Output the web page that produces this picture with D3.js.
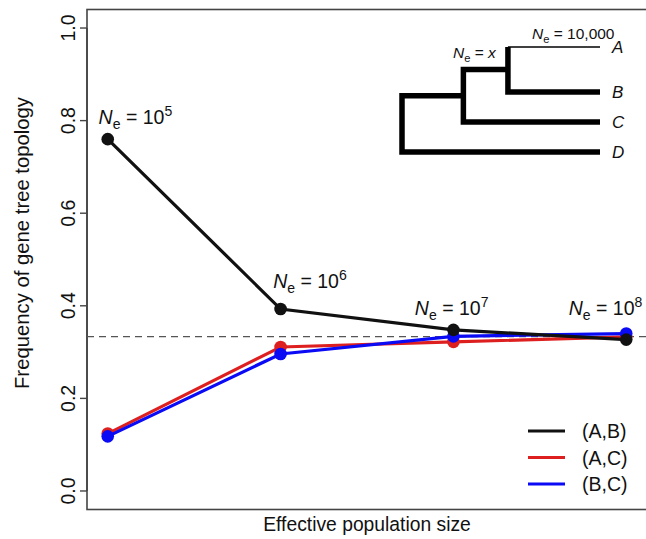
<!DOCTYPE html>
<html>
<head>
<meta charset="utf-8">
<script src="https://cdn.jsdelivr.net/npm/d3@7"></script>
<style>
  body { margin: 0; background: #fff; }
  text { font-family: "Liberation Sans", Arial, Helvetica, sans-serif; fill: #111; }
</style>
</head>
<body>
<div id="chart"></div>
<script>
// data
var popSizes = [5, 6, 7, 8];            // log10 of Ne, one per x position
var freqAB = [0.760, 0.393, 0.348, 0.327];
var freqAC = [0.124, 0.311, 0.322, 0.333];
var freqBC = [0.118, 0.296, 0.334, 0.340];
var yTicks = [0, 0.2, 0.4, 0.6, 0.8, 1.0];
var seriesNames = ["(A,B)", "(A,C)", "(B,C)"];
var seriesColors = ["#111111", "#dd1f1f", "#0a0af5"];

// where the Ne labels sit, in data units (x index, frequency)
var labelX = [1.16, 2.17, 2.99, 3.88];
var labelY = [0.793, 0.438, 0.380, 0.380];

// inset tree: tips and node heights (0 = tips, 1 = root)
var tips = ["A", "B", "C", "D"];
var tipRows = [0, 1.5, 2.5, 3.5];
var hAB = 0.465, hABC = 0.69, hRoot = 1;

var W = 646, H = 539;
var svg = d3.select("#chart")
  .append("svg")
    .attr("width", W)
    .attr("height", H);

// scales (R style: 4% padding on both axes)
var x = d3.scaleLinear()
  .domain([0.88, 4.12])
  .range([87, 647]);
var y = d3.scaleLinear()
  .domain([-0.04, 1.04])
  .range([509.5, 9.5]);

// plot box
svg.append("rect")
  .attr("x", x(0.88)).attr("y", y(1.04))
  .attr("width", x(4.12) - x(0.88))
  .attr("height", y(-0.04) - y(1.04))
  .attr("fill", "none")
  .attr("stroke", "#444")
  .attr("stroke-width", 1.6);

// y axis
var yAxis = svg.append("g")
  .attr("transform", "translate(" + x(0.88) + ",0)")
  .call(d3.axisLeft(y).tickValues(yTicks).tickFormat(d3.format(".1f")).tickSize(7));
yAxis.select(".domain").attr("stroke", "#444").attr("stroke-width", 1.6)
  .attr("d", "M0," + y(0) + "V" + y(1));
yAxis.selectAll(".tick").attr("transform", null);
yAxis.selectAll(".tick line")
  .attr("stroke", "#444").attr("stroke-width", 1.4)
  .attr("y1", function(d) { return y(d); })
  .attr("y2", function(d) { return y(d); });
yAxis.selectAll(".tick text")
  .attr("font-size", 19.5)
  .attr("fill", "#222")
  .attr("transform", function(d) { return "translate(-12.5," + y(d) + ") rotate(-90)"; })
  .attr("x", 0).attr("y", 0)
  .attr("dy", 0)
  .style("text-anchor", "middle")
  .attr("font-family", "Liberation Sans, Arial, sans-serif");

// axis titles
svg.append("text")
  .attr("transform", "translate(29,243) rotate(-90)")
  .attr("text-anchor", "middle")
  .attr("font-size", 20.3)
  .text("Frequency of gene tree topology");
svg.append("text")
  .attr("x", (x(0.88) + x(4.12)) / 2)
  .attr("y", 531)
  .attr("text-anchor", "middle")
  .attr("font-size", 19.3)
  .text("Effective population size");

// expected 1/3 line
svg.append("line")
  .attr("x1", x(0.88)).attr("x2", x(4.12))
  .attr("y1", y(1 / 3)).attr("y2", y(1 / 3))
  .attr("stroke", "#555")
  .attr("stroke-width", 1.4)
  .attr("stroke-dasharray", "7,5");

// series: red, blue, then black on top
var series = [
  { name: seriesNames[1], color: seriesColors[1], values: freqAC },
  { name: seriesNames[2], color: seriesColors[2], values: freqBC },
  { name: seriesNames[0], color: seriesColors[0], values: freqAB }
];
var line = d3.line()
  .x(function(d, i) { return x(i + 1); })
  .y(function(d) { return y(d); });

series.forEach(function(s) {
  svg.append("path")
    .datum(s.values)
    .attr("fill", "none")
    .attr("stroke", s.color)
    .attr("stroke-width", 3.2)
    .attr("d", line);
  svg.selectAll(null)
    .data(s.values)
    .enter()
    .append("circle")
      .attr("cx", function(d, i) { return x(i + 1); })
      .attr("cy", function(d) { return y(d); })
      .attr("r", 6.3)
      .attr("fill", s.color);
});

// N_e labels
function neLabel(g, px, py, size) {
  var t = g.append("text")
    .attr("x", px).attr("y", py)
    .attr("font-size", size);
  t.append("tspan").attr("font-style", "italic").text("N");
  t.append("tspan").attr("font-size", size * 0.72).attr("dy", size * 0.25).text("e");
  return t;
}
popSizes.forEach(function(p, i) {
  var t = neLabel(svg, x(labelX[i]), y(labelY[i]), 19.5);
  t.attr("text-anchor", "middle");
  t.append("tspan").attr("dy", -19.5 * 0.25).text(" = 10");
  t.append("tspan").attr("font-size", 19.5 * 0.72).attr("dy", -8).text(p);
});

// inset tree
var tx = d3.scaleLinear().domain([hRoot, 0]).range([402, 600]);
var ty = d3.scaleLinear().domain([0, 3.5]).range([47, 152]);
var rowAB = (tipRows[0] + tipRows[1]) / 2;
var rowABC = (rowAB + tipRows[2]) / 2;
var tree = svg.append("g");
var thick = [
  [[hAB, tipRows[0]], [hAB, tipRows[1]], [0, tipRows[1]]],
  [[hAB, rowAB], [hABC, rowAB], [hABC, tipRows[2]], [0, tipRows[2]]],
  [[hABC, rowABC], [hRoot, rowABC], [hRoot, tipRows[3]], [0, tipRows[3]]]
];
var treeLine = d3.line()
  .x(function(d) { return tx(d[0]); })
  .y(function(d) { return ty(d[1]); });
tree.selectAll(null)
  .data(thick)
  .enter()
  .append("path")
    .attr("d", treeLine)
    .attr("fill", "none")
    .attr("stroke", "#000")
    .attr("stroke-width", 5.5)
    .attr("stroke-linejoin", "miter");
tree.append("path")
  .attr("d", treeLine([[hAB, tipRows[0]], [0, tipRows[0]]]))
  .attr("stroke", "#000")
  .attr("stroke-width", 1.3);
tree.selectAll(".tip")
  .data(tips)
  .enter()
  .append("text")
    .attr("x", tx(0) + 12)
    .attr("y", function(d, i) { return ty(tipRows[i]) + 6; })
    .attr("font-size", 17)
    .attr("font-style", "italic")
    .text(function(d) { return d; });

var lx = neLabel(tree, 453, 58, 15.5);
lx.append("tspan").attr("dy", -15.5 * 0.25).text(" = ");
lx.append("tspan").attr("font-style", "italic").text("x");
var l10 = neLabel(tree, 532, 39, 15.5);
l10.append("tspan").attr("dy", -15.5 * 0.25).text(" = 10,000");

// legend
var legend = svg.append("g");
seriesNames.forEach(function(name, i) {
  var ly = 431 + i * 26.5;
  legend.append("line")
    .attr("x1", 528).attr("x2", 565)
    .attr("y1", ly).attr("y2", ly)
    .attr("stroke", seriesColors[i])
    .attr("stroke-width", 3);
  legend.append("text")
    .attr("x", 582).attr("y", ly + 7)
    .attr("font-size", 19.5)
    .text(name);
});
</script>
</body>
</html>
